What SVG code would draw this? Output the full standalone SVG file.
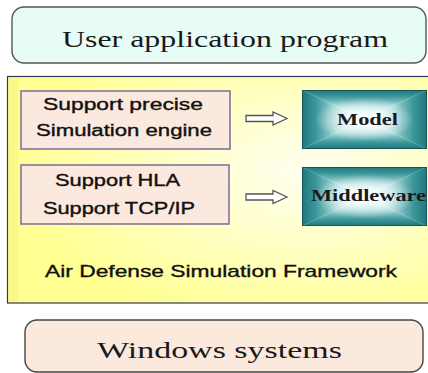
<svg xmlns="http://www.w3.org/2000/svg" width="428" height="373" viewBox="0 0 428 373">
  <defs>
    <radialGradient id="panelFill" cx="0.7" cy="0.42" r="0.7">
      <stop offset="0" stop-color="#fffff2"/>
      <stop offset="0.5" stop-color="#ffffc2"/>
      <stop offset="1" stop-color="#ffff92"/>
    </radialGradient>
    <linearGradient id="tealTop" x1="0" y1="0" x2="0" y2="1">
      <stop offset="0" stop-color="#1e777c"/>
      <stop offset="0.22" stop-color="#3c979b"/>
      <stop offset="0.55" stop-color="#a6d8d8"/>
      <stop offset="0.85" stop-color="#eefcfc"/>
      <stop offset="1" stop-color="#ffffff"/>
    </linearGradient>
    <linearGradient id="tealBottom" x1="0" y1="1" x2="0" y2="0" href="#tealTop"/>
    <linearGradient id="tealLeft" x1="0" y1="0" x2="1" y2="0" href="#tealTop"/>
    <linearGradient id="tealRight" x1="1" y1="0" x2="0" y2="0" href="#tealTop"/>
    <radialGradient id="glow" cx="0.5" cy="0.5" r="0.5">
      <stop offset="0" stop-color="#ffffff" stop-opacity="0.9"/>
      <stop offset="0.6" stop-color="#ffffff" stop-opacity="0.45"/>
      <stop offset="1" stop-color="#ffffff" stop-opacity="0"/>
    </radialGradient>
    <style>
      .serif { font-family: "Liberation Serif", "DejaVu Serif", serif; fill: #1a1a1a; }
      .sans { font-family: "Liberation Sans", Arial, sans-serif; fill: #111; stroke: #111; stroke-width: 0.35; }
      .outer { stroke-width: 1.4; }
      .feature { fill: #fbe8de; stroke: #7a6e96; stroke-width: 1.5; }
      .tealEdge { fill: none; stroke: #16555c; stroke-width: 1; }
      .arrow { fill: #ffffff; stroke: #555555; stroke-width: 1.3; stroke-linejoin: miter; }
      .label { font-size: 17px; font-weight: bold; }
    </style>
  </defs>

  <rect x="0" y="0" width="428" height="373" fill="#ffffff"/>

  <!-- top layer: application -->
  <g id="user-app">
    <rect class="outer" x="12" y="7" width="414" height="56" rx="12" fill="#e6fcf4" stroke="#555555"/>
    <text class="serif" x="225" y="47" font-size="23" text-anchor="middle" textLength="326" lengthAdjust="spacingAndGlyphs">User application program</text>
  </g>

  <!-- framework panel -->
  <g id="framework">
    <rect x="7.5" y="76.5" width="430" height="226.5" fill="url(#panelFill)" stroke="#34345e" stroke-width="1.2"/>
    <rect x="8.5" y="77.5" width="10" height="224.5" fill="#f9f27e" opacity="0.5"/>
    <text class="sans" x="221" y="277" font-size="17" text-anchor="middle" textLength="352" lengthAdjust="spacingAndGlyphs">Air Defense Simulation Framework</text>
  </g>

  <g id="engine-support">
    <rect class="feature" x="21" y="91" width="209" height="58"/>
    <text class="sans" x="123" y="110" font-size="16" text-anchor="middle" textLength="160" lengthAdjust="spacingAndGlyphs">Support precise</text>
    <text class="sans" x="124" y="136" font-size="16" text-anchor="middle" textLength="176" lengthAdjust="spacingAndGlyphs">Simulation engine</text>
  </g>

  <g id="network-support">
    <rect class="feature" x="21" y="165" width="208" height="59"/>
    <text class="sans" x="117.5" y="186" font-size="16" text-anchor="middle" textLength="125" lengthAdjust="spacingAndGlyphs">Support HLA</text>
    <text class="sans" x="119" y="214" font-size="16" text-anchor="middle" textLength="152" lengthAdjust="spacingAndGlyphs">Support TCP/IP</text>
  </g>

  <!-- box-gradient blocks: four triangles meeting at the centre, softened by a glow -->
  <g id="model">
    <polygon points="302,90 427,90 364.5,119.5" fill="url(#tealTop)"/>
    <polygon points="302,149 427,149 364.5,119.5" fill="url(#tealBottom)"/>
    <polygon points="302,90 302,149 364.5,119.5" fill="url(#tealLeft)"/>
    <polygon points="427,90 427,149 364.5,119.5" fill="url(#tealRight)"/>
    <ellipse cx="364.5" cy="119.5" rx="50" ry="22" fill="url(#glow)"/>
    <rect class="tealEdge" x="302.5" y="90.5" width="124" height="58"/>
    <text class="serif label" x="367.5" y="125" text-anchor="middle" textLength="61" lengthAdjust="spacingAndGlyphs">Model</text>
  </g>

  <g id="middleware">
    <polygon points="302,167 427,167 364.5,196.5" fill="url(#tealTop)"/>
    <polygon points="302,226 427,226 364.5,196.5" fill="url(#tealBottom)"/>
    <polygon points="302,167 302,226 364.5,196.5" fill="url(#tealLeft)"/>
    <polygon points="427,167 427,226 364.5,196.5" fill="url(#tealRight)"/>
    <ellipse cx="364.5" cy="196.5" rx="50" ry="22" fill="url(#glow)"/>
    <rect class="tealEdge" x="302.5" y="167.5" width="124" height="58"/>
    <text class="serif label" x="368.5" y="201" text-anchor="middle" textLength="115" lengthAdjust="spacingAndGlyphs">Middleware</text>
  </g>

  <!-- bottom layer: operating system -->
  <g id="windows">
    <rect class="outer" x="25" y="320" width="398" height="52" rx="12" fill="#fce9dd" stroke="#444444"/>
    <text class="serif" x="219.5" y="358" font-size="23" text-anchor="middle" textLength="245" lengthAdjust="spacingAndGlyphs">Windows systems</text>
  </g>

  <!-- hollow block arrows -->
  <g id="connectors">
    <polygon class="arrow" points="246,115.5 273,115.5 273,112 287,118.5 273,125 273,121.5 246,121.5"/>
    <polygon class="arrow" points="246,194 273,194 273,190.5 287,197 273,203.5 273,200 246,200"/>
  </g>
</svg>
